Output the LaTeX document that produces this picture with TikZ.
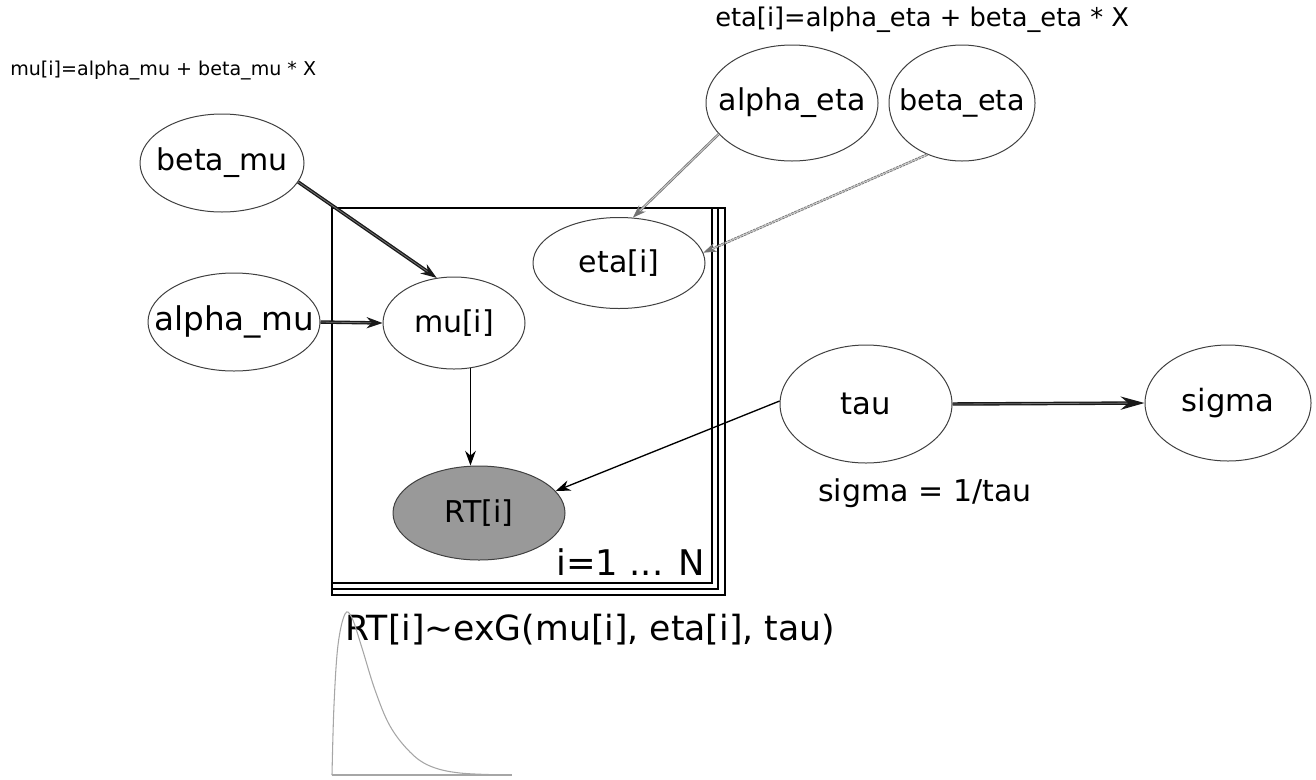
\documentclass[tikz,border=0pt]{standalone}
\usepackage{fontspec}
\setmainfont{DejaVu Sans}
\usetikzlibrary{arrows.meta,shapes.geometric}
\newcommand{\fsz}[1]{\fontsize{#1}{#1}\selectfont}
\newcommand{\zb}[1]{\makebox[0pt]{#1}}
\begin{document}
\begin{tikzpicture}[x=0.75pt,y=-0.75pt,
  var/.style={ellipse, draw=black!75, line width=0.75pt, inner sep=0pt, font=\fsz{22pt}},
  ivar/.style={var, font=\fsz{22.5pt}},
  obs/.style={ivar, fill=black!40},
  edge/.style={draw=black, line width=1pt, -{Stealth[length=11pt,width=8pt]}},
  dbl/.style={draw=black!90, line width=1pt, double=black!55, double distance=0.6pt, -{Stealth[length=12pt,width=8.5pt]}},
  lgdbl/.style={draw=black!55, line width=0.6pt, double=black!20, double distance=0.7pt, -{Stealth[length=10pt,width=7pt]}},
  platebox/.style={draw=black, line width=1.6pt},
  note/.style={inner sep=0pt, anchor=west}
]
\useasboundingbox (0,0) rectangle (1316,779);

% plate
\draw[platebox, line width=1.4pt] (332,208) rectangle (725,595);
\draw[platebox, line width=1.4pt] (332,208) rectangle (718,589);
\draw[platebox, line width=2.1pt] (332,208) rectangle (712,583);

% nodes
\node[var, font=\fsz{22.5pt}, minimum width=123pt, minimum height=73.5pt] (betamu) at (222,163) {\zb{beta\_mu}};
\node[var, font=\fsz{24.5pt}, minimum width=129pt, minimum height=73.5pt] (alphamu) at (234,322) {\zb{alpha\_mu}};
\node[ivar, minimum width=106.5pt, minimum height=69pt] (mui) at (454,323) {\zb{mu[i]}};
\node[ivar, minimum width=129pt, minimum height=68.25pt] (etai) at (619,263) {\zb{eta[i]}};
\node[var, font=\fsz{22.5pt}, minimum width=129pt, minimum height=87pt] (alphaeta) at (792,103) {\zb{alpha\_eta}};
\node[var, font=\fsz{21.5pt}, minimum width=109.5pt, minimum height=87pt] (betaeta) at (962,103) {\zb{beta\_eta}};
\node[var, font=\fsz{23pt}, minimum width=129pt, minimum height=88.5pt] (tau) at (866,404) {\zb{tau}};
\node[var, font=\fsz{23pt}, minimum width=124.5pt, minimum height=87pt] (sigma) at (1228,403) {\zb{sigma}};
\node[obs, minimum width=129pt, minimum height=70.5pt] (RTi) at (479,513) {\zb{RT[i]}};

% texts
\node[note, font=\fsz{14.3pt}] (mueq) at (10,70) {mu[i]=alpha\_mu + beta\_mu * X};
\node[note, font=\fsz{19.3pt}] (etaeq) at (715,20) {eta[i]=alpha\_eta + beta\_eta * X};
\node[inner sep=0pt, anchor=east, font=\fsz{26.5pt}] (range) at (705,562) {i=1 ... N};
\node[note, font=\fsz{26pt}] (lik) at (345,630) {RT[i]\textasciitilde exG(mu[i], eta[i], tau)};
\node[note, font=\fsz{22.5pt}] (sigeq) at (818,493) {sigma = 1/tau};

% edges
\draw[dbl] (betamu.-14) -- (mui.111);
\draw[dbl] (alphamu.east) -- (mui.west);
\draw[edge] (mui.-70) -- (mui.-70 |- RTi.north);
\draw[lgdbl] (alphaeta.-157) -- (etai.73);
\draw[lgdbl, dashed, dash pattern=on 2pt off 0.6pt] (betaeta.-124) -- (etai.7);
\draw[edge] (tau.178) -- (RTi.16);
\draw[dbl, -{Stealth[length=18pt,width=10pt]}] (tau.east) -- (sigma.west);

% exGaussian sketch
\draw[black!35, line width=0.8pt] (332,775) -- (512,775);
\draw[black!35, line width=0.8pt] plot[smooth, tension=0.6] coordinates {
  (332,775) (334,705) (338,645) (345,614) (352,618) (362,648) (375,690)
  (390,726) (410,752) (430,766) (460,773) (510,775)};
\end{tikzpicture}
\end{document}
